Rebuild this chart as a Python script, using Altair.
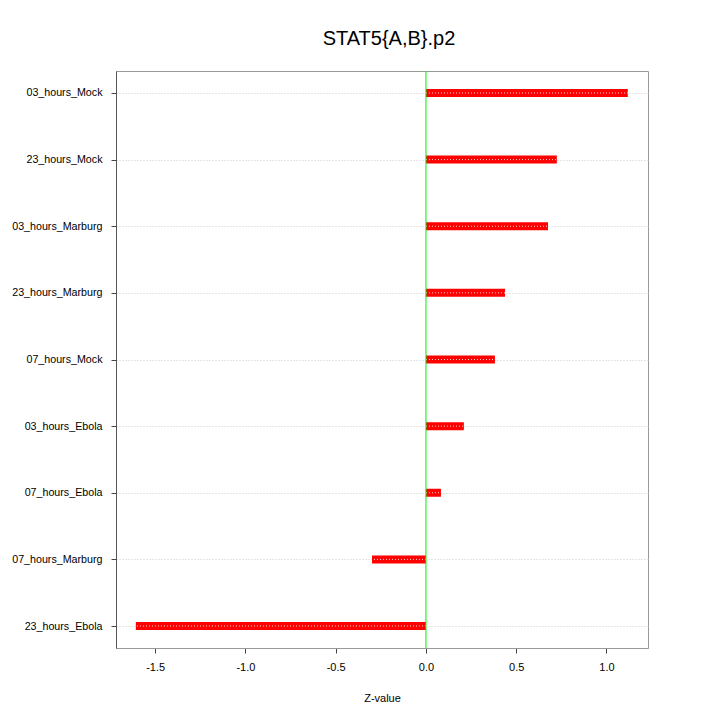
import altair as alt
import pandas as pd

categories = ["03_hours_Mock", "23_hours_Mock", "03_hours_Marburg", "23_hours_Marburg",
              "07_hours_Mock", "03_hours_Ebola", "07_hours_Ebola", "07_hours_Marburg",
              "23_hours_Ebola"]
values = [1.118, 0.725, 0.676, 0.438, 0.382, 0.210, 0.083, -0.299, -1.607]

df = pd.DataFrame({"cond": categories, "z": values, "zero": [0.0] * len(values)})

FONT = "Liberation Sans"
xscale = alt.Scale(domain=[-1.717, 1.23], nice=False, zero=False)
yscale = alt.Scale(type="point", domain=categories, padding=0.33)

base = alt.Chart(df)

bars = base.mark_rule(color="#ff0000", strokeWidth=8, strokeCap="butt").encode(
    x=alt.X("zero:Q", scale=xscale,
            axis=alt.Axis(title="Z-value", values=[-1.5, -1.0, -0.5, 0.0, 0.5, 1.0],
                          labelExpr="replace(format(datum.value, '.1f'), '\u2212', '-')",
                          grid=False, tickSize=5, tickColor="#444444",
                          domainColor="#999999", labelFont=FONT, labelFontSize=11,
                          labelColor="#000000", labelPadding=8,
                          titleFont=FONT, titleFontSize=11, titleFontWeight="normal",
                          titleColor="#000000", titlePadding=20)),
    x2="z:Q",
    y=alt.Y("cond:N", scale=yscale,
            axis=alt.Axis(title=None, grid=True, gridColor="#cccccc", gridDash=[1, 2],
                          tickSize=5, tickColor="#444444", domainColor="#555555",
                          labelFont=FONT, labelFontSize=10.7, labelColor="#000000",
                          labelPadding=9)),
)

dots = base.mark_rule(color="#ffdddd", strokeWidth=1, strokeDash=[1, 2]).encode(
    x=alt.X("zero:Q", scale=xscale),
    x2="z:Q",
    y=alt.Y("cond:N", scale=yscale),
)

zero_line = alt.Chart(pd.DataFrame({"v": [0.0]})).mark_rule(color="#00ee00", strokeWidth=1).encode(
    x=alt.X("v:Q", scale=xscale)
)

chart = alt.layer(bars, dots, zero_line).properties(
    width=532, height=577,
    title=alt.TitleParams("STAT5{A,B}.p2", font=FONT, fontSize=20, fontWeight="normal",
                          color="#000000", anchor="middle", offset=22, dx=7),
    autosize=alt.AutoSizeParams(type="none"),
    padding={"left": 108, "top": 63, "right": 64, "bottom": 70},
).configure_view(stroke="#999999", strokeWidth=1)

chart.save("out.html", embed_options={"renderer": "svg", "actions": False})
